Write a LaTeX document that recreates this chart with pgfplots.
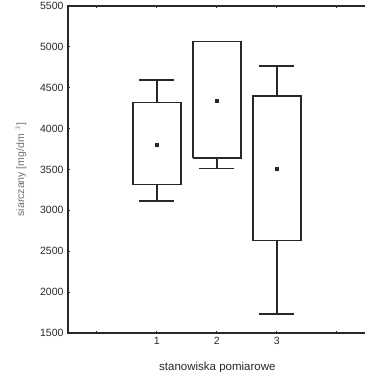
\documentclass[border=0pt]{standalone}
\usepackage{fontspec}
\setmainfont{Liberation Sans}
\usepackage{pgfplots}
\pgfplotsset{compat=1.18}
\definecolor{ink}{RGB}{40,40,40}
\definecolor{lab}{RGB}{110,110,110}
\begin{document}
\begin{tikzpicture}
\begin{axis}[
  name=ax,
  scale only axis,
  width=298.8pt, height=327pt,
  xmin=-0.48, xmax=4.5,
  ymin=1500, ymax=5500,
  xtick={0,1,2,3,4},
  xticklabels={,1,2,3,},
  ytick={1500,2000,2500,3000,3500,4000,4500,5000,5500},
  /pgf/number format/assume math mode=true,
  /pgf/number format/set thousands separator={},
  tick align=inside,
  major tick length=2pt,
  tick style={ink, line width=0.8pt},
  axis line style={ink, line width=1.4pt},
  ticklabel style={font=\fontsize{10.5}{12}\selectfont, text=ink},
  yticklabel style={xshift=-1pt},
  xticklabel style={yshift=-1pt},
  xlabel={stanowiska pomiarowe},
  ylabel={siarczany [mg/dm\hspace{4pt}$^{3}$]},
  xlabel style={font=\fontsize{11.5}{13}\selectfont, text=ink, yshift=-10pt},
  ylabel style={font=\fontsize{10.5}{12}\selectfont, text=lab, yshift=7pt},
  unbounded coords=jump,
]
% box 1: whisker 3115-4595, box 3315-4320
\addplot[ink, line width=1.4pt, mark=none] coordinates {(0.6,3315) (1.4,3315) (1.4,4320) (0.6,4320) (0.6,3315)};
\addplot[ink, line width=1.4pt, mark=none] coordinates {(1,4320) (1,4595) (nan,nan) (0.71,4595) (1.29,4595)
  (nan,nan) (1,3315) (1,3115) (nan,nan) (0.71,3115) (1.29,3115)};
% box 2: box 3640-5063, lower whisker 3515
\addplot[ink, line width=1.4pt, mark=none] coordinates {(1.6,3640) (2.4,3640) (2.4,5063) (1.6,5063) (1.6,3640)};
\addplot[ink, line width=1.4pt, mark=none] coordinates {(2,3640) (2,3515) (nan,nan) (1.71,3515) (2.29,3515)};
% box 3: whisker 1732-4768, box 2630-4400
\addplot[ink, line width=1.4pt, mark=none] coordinates {(2.6,2630) (3.4,2630) (3.4,4400) (2.6,4400) (2.6,2630)};
\addplot[ink, line width=1.4pt, mark=none] coordinates {(3,4400) (3,4768) (nan,nan) (2.71,4768) (3.29,4768)
  (nan,nan) (3,2630) (3,1732) (nan,nan) (2.71,1732) (3.29,1732)};
% means
\addplot[ink, only marks, mark=square*, mark size=1.5pt]
  coordinates {(1,3800) (2,4340) (3,3510)};
\end{axis}
\pgfresetboundingbox
\path[use as bounding box] ([xshift=-68pt,yshift=-39pt]ax.south west) rectangle ([xshift=296pt,yshift=6pt]ax.north west);
\end{tikzpicture}
\end{document}
